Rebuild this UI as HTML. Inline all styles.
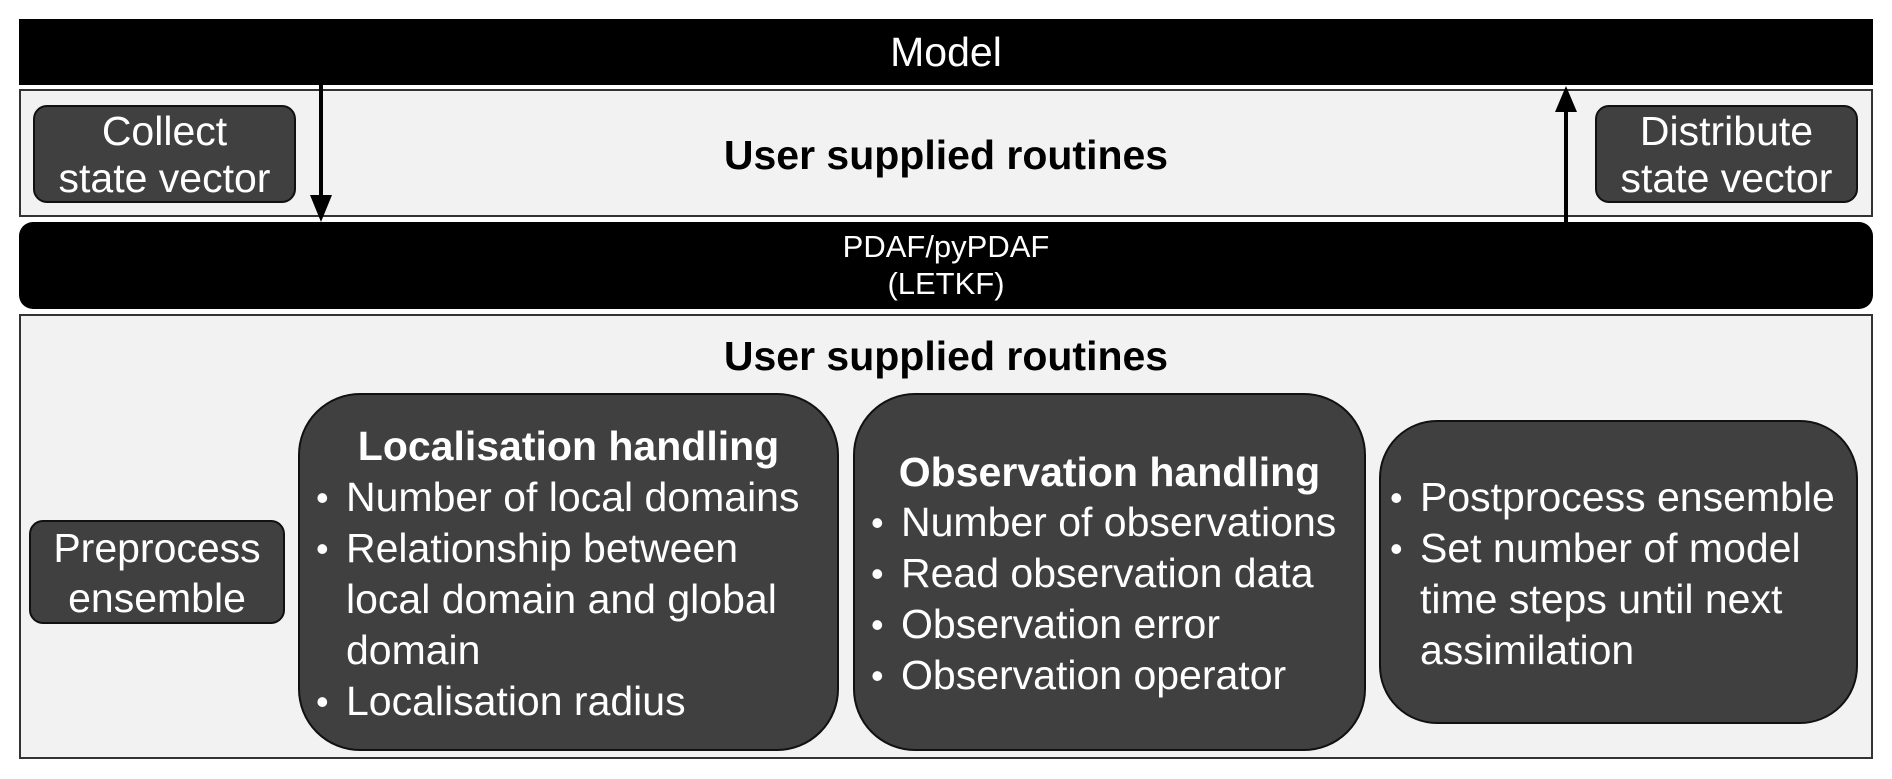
<!DOCTYPE html>
<html><head><meta charset="utf-8"><style>
body{margin:0;width:1892px;height:779px;background:#fff;position:relative;overflow:hidden;font-family:"Liberation Sans",Arial,sans-serif}
div{position:absolute;box-sizing:border-box}
.dk{background:#404040;border:2px solid #111;color:#fff}
.lt{background:#f2f2f2;border:2px solid #333}
.t{color:#fff;font-size:41px;line-height:51px;white-space:nowrap}
.b{position:absolute;left:-30px;font-size:36px}
</style></head><body>
<div style="left:19px;top:19px;width:1854px;height:66px;background:#000;color:#fff;font-size:41px;line-height:66px;text-align:center">Model</div>
<div class="lt" style="left:19px;top:89px;width:1854px;height:128px"></div>
<div style="left:19px;top:133px;width:1854px;text-align:center;font-size:41px;font-weight:bold;line-height:44px">User supplied routines</div>
<div class="dk" style="left:33px;top:105px;width:263px;height:98px;border-radius:14px;font-size:41px;line-height:47px;text-align:center;padding-top:1px">Collect<br>state vector</div>
<div class="dk" style="left:1595px;top:105px;width:263px;height:98px;border-radius:14px;font-size:41px;line-height:47px;text-align:center;padding-top:1px">Distribute<br>state vector</div>
<div style="left:19px;top:222px;width:1854px;height:87px;background:#000;border-radius:14px;color:#fff;font-size:31px;line-height:37px;text-align:center;padding-top:6px">PDAF/pyPDAF<br>(LETKF)</div>
<svg style="position:absolute;left:0;top:0" width="1892" height="779">
<line x1="321" y1="85" x2="321" y2="198" stroke="#000" stroke-width="4"/>
<polygon points="310,195 332,195 321,222" fill="#000"/>
<line x1="1566" y1="222" x2="1566" y2="108" stroke="#000" stroke-width="4"/>
<polygon points="1555,112 1577,112 1566,86" fill="#000"/>
</svg>
<div class="lt" style="left:19px;top:314px;width:1854px;height:445px"></div>
<div style="left:19px;top:334px;width:1854px;text-align:center;font-size:41px;font-weight:bold;line-height:44px">User supplied routines</div>
<div class="dk" style="left:29px;top:520px;width:256px;height:104px;border-radius:14px;font-size:41px;line-height:50px;text-align:center;padding-top:1px">Preprocess<br>ensemble</div>
<div class="dk" style="left:298px;top:393px;width:541px;height:358px;border-radius:62px"></div>
<div class="t" style="left:298px;top:421px;width:541px;text-align:center;font-weight:bold">Localisation handling</div>
<div class="t" style="left:346px;top:472px">
<span class="b">•</span>Number of local domains<br><span class="b" style="top:51px">•</span>Relationship between<br>local domain and global<br>domain<br><span class="b" style="top:204px">•</span>Localisation radius</div>
<div class="dk" style="left:853px;top:393px;width:513px;height:358px;border-radius:62px"></div>
<div class="t" style="left:853px;top:447px;width:513px;text-align:center;font-weight:bold">Observation handling</div>
<div class="t" style="left:901px;top:497px">
<span class="b">•</span>Number of observations<br><span class="b" style="top:51px">•</span>Read observation data<br><span class="b" style="top:102px">•</span>Observation error<br><span class="b" style="top:153px">•</span>Observation operator</div>
<div class="dk" style="left:1379px;top:420px;width:479px;height:304px;border-radius:58px"></div>
<div class="t" style="left:1420px;top:472px">
<span class="b">•</span>Postprocess ensemble<br><span class="b" style="top:51px">•</span>Set number of model<br>time steps until next<br>assimilation</div>
</body></html>
